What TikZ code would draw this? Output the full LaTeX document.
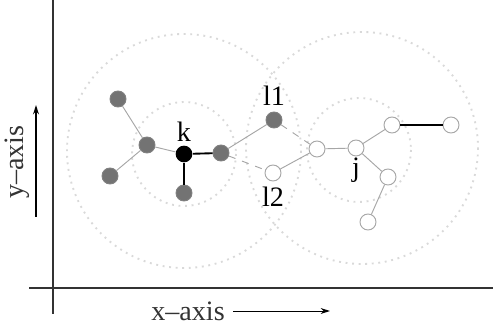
\documentclass[tikz,border=0pt]{standalone}
\usepackage{fontspec}
\setmainfont{Liberation Serif}
\usetikzlibrary{arrows.meta}

\begin{document}
\begin{tikzpicture}[x=0.015cm,y=-0.015cm]
      \tikzstyle{every node}=[font=\large]
      \tikzstyle{fullnode}=[circle,draw=black!50,fill=black!55,inner sep=0pt,minimum size=0.24cm]
      \tikzstyle{emptynode}=[circle,draw=black!35,fill=white,inner sep=0pt,minimum size=0.24cm]
      \tikzstyle{reach}=[draw=black!15,dotted,thick]
      \tikzstyle{linkedge}=[draw=black!35]
      \tikzstyle{hopedge}=[draw=black!35,dashed]
      \tikzstyle{treeedge}=[draw=black,thick]

      \useasboundingbox (0,0) rectangle (493,327);

      % axes
      \draw[black!80,semithick] (53,0) -- (53,314);
      \draw[black!80,thick] (29,288) -- (493,288);
      \node[rotate=90,text=black!80] (ylab) at (17,162) {y\textendash axis};
      \node[text=black!80] (xlab) at (188,311) {x\textendash axis};
      \draw[semithick,-{Stealth[length=4pt,width=2.5pt]}] (36,217) -- (36,105);
      \draw[-{Stealth[length=4pt,width=2.5pt]}] (233,311) -- (330,311);

      % ranges
      \draw[reach] (184,151) circle (117);
      \draw[reach] (184,154) circle (52);
      \draw[reach] (362,148) circle (116);
      \draw[reach] (359,150) circle (52);

      % cluster of k
      \node[fullnode] (a1) at (118,99) {};
      \node[fullnode] (a2) at (147,145) {};
      \node[fullnode] (a3) at (110,176) {};
      \node[circle,fill=black,inner sep=0pt,minimum size=0.25cm] (k) at (184,154) {};
      \node[fullnode] (a4) at (184,193) {};
      \node[fullnode] (m) at (221,153) {};
      \node[fullnode] (l1) at (274,120) {};
      \node[emptynode] (l2) at (273,173) {};

      % cluster of j
      \node[emptynode] (n1) at (317,149) {};
      \node[emptynode] (j) at (356,148) {};
      \node[emptynode] (n2) at (392,125) {};
      \node[emptynode] (n3) at (451,125) {};
      \node[emptynode] (n4) at (388,177) {};
      \node[emptynode] (n5) at (368,222) {};

      \node[above=-2pt] at (k.north) {k};
      \node[above=-1pt] at (l1.north) {l1};
      \node[below=-1pt] at (l2.south) {l2};
      \node[below=-3pt] at (j.south) {j};

      \draw[linkedge] (a1) -- (a2);
      \draw[linkedge] (a3) -- (a2);
      \draw[linkedge] (a2) -- (k);
      \draw[treeedge] (k) -- (a4);
      \draw[treeedge] (k) -- (m);
      \draw[linkedge] (m) -- (l1);
      \draw[hopedge] (m) -- (l2);
      \draw[hopedge] (l1) -- (n1);
      \draw[linkedge] (l2) -- (n1);
      \draw[linkedge] (n1) -- (j);
      \draw[linkedge] (j) -- (n2);
      \draw[treeedge] (n2) -- (n3);
      \draw[linkedge] (j) -- (n4);
      \draw[linkedge] (n4) -- (n5);
\end{tikzpicture}
\end{document}
